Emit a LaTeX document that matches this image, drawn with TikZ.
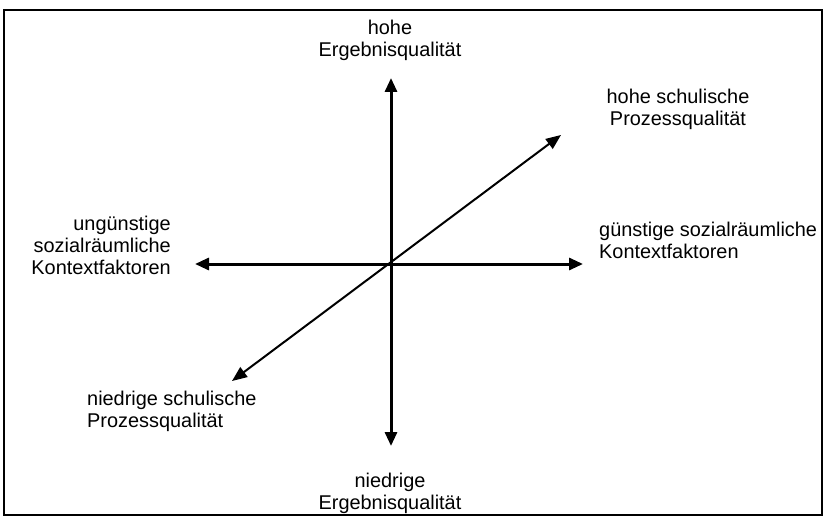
\documentclass[tikz,border=0pt]{standalone}
\usepackage{fontspec}
\setmainfont{Liberation Sans}
\usetikzlibrary{arrows.meta}
\begin{document}
\begin{tikzpicture}[x=1pt,y=-1pt,
  lbl/.style={inner sep=0pt,font=\fontsize{19.9pt}{22pt}\selectfont},
  axis/.style={line width=3pt,{Triangle[length=14pt,width=12pt]}-{Triangle[length=14pt,width=12pt]}},
  diag/.style={line width=2pt,{Triangle[length=15pt,width=12pt]}-{Triangle[length=15pt,width=12pt]}}]
\useasboundingbox (0,0) rectangle (824,516);
\draw[line width=1.2pt] (4,10) rectangle (822,515);
% axis end points
\coordinate (top) at (391,78);
\coordinate (bottom) at (391,446);
\coordinate (left) at (195,264);
\coordinate (right) at (583,264);
\coordinate (ne) at (561,135);
\coordinate (sw) at (232,381);
\draw[axis] (bottom) -- (top);
\draw[axis] (left) -- (right);
\draw[diag] (sw) -- (ne);
% labels
\node[lbl,align=center,anchor=north] (hE) at (390,20) {hohe\\Ergebnisqualität};
\node[lbl,align=center,anchor=north] (hP) at (678,89) {hohe schulische\\Prozessqualität};
\node[lbl,align=right,anchor=north east] (uK) at (171,216) {ungünstige\\sozialräumliche\\Kontextfaktoren};
\node[lbl,align=left,anchor=north west] (gK) at (599,222) {günstige sozialräumliche\\Kontextfaktoren};
\node[lbl,align=left,anchor=north west] (nP) at (87,391) {niedrige schulische\\Prozessqualität};
\node[lbl,align=center,anchor=north] (nE) at (390,473) {niedrige\\Ergebnisqualität};
\end{tikzpicture}
\end{document}
